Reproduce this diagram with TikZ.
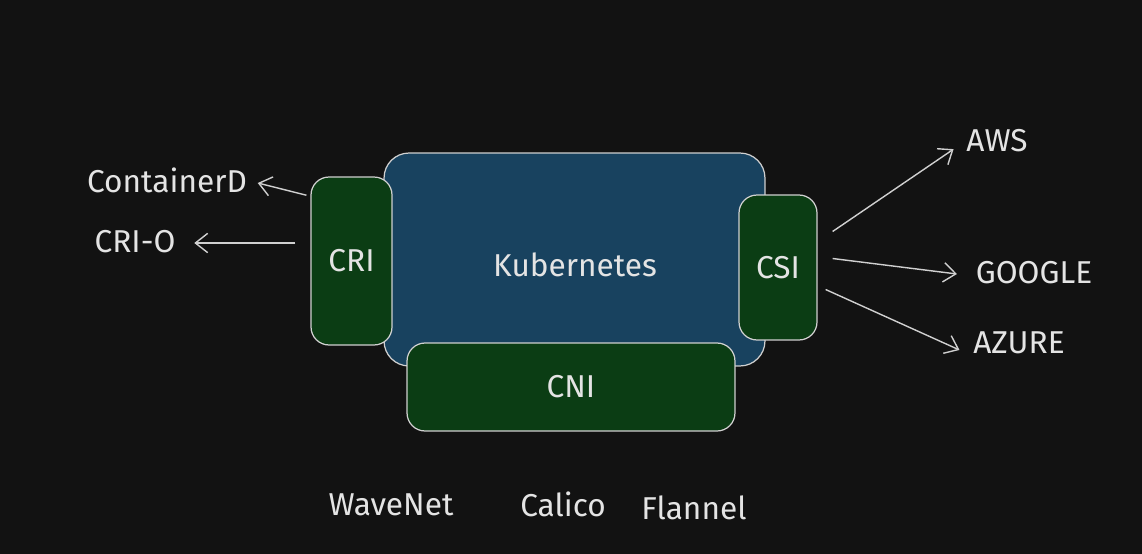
\documentclass[tikz,border=0pt]{standalone}
\usepackage{fontspec}
\setmainfont{Fira Sans}
\usepackage{tikz}
\usetikzlibrary{arrows.meta,
           positioning,
           calc}
\definecolor{fond}{HTML}{121212}
\definecolor{bleuk}{HTML}{18425F}
\definecolor{vertp}{HTML}{0B3D14}
\definecolor{trait}{HTML}{D0D0D0}
\definecolor{texte}{HTML}{E4E4E4}
\tikzset{
  boite/.style={draw=trait, line width=0.7pt, align=center, text=texte},
  kube/.style={boite, fill=bleuk, rounded corners=0.5cm},
  plug/.style={boite, fill=vertp, rounded corners=0.36cm},
  etiq/.style={text=texte, inner sep=2pt},
  fleche/.style={draw=trait, line width=0.8pt, -{Straight Barb[length=7pt,width=11pt,line width=0.8pt]}}
}
\begin{document}
\begin{tikzpicture}[x=0.02cm, y=-0.02cm, font=\fontsize{18}{21}\selectfont]
\fill[fond](0,0) rectangle (1142,554);
% le coeur et ses interfaces
\node[kube, minimum width=7.62cm, minimum height=4.26cm](K)at(574.5,259.5){};
\node[text=texte](Ktxt)at(575,265){Kubernetes};
\node[plug, minimum width=1.62cm, minimum height=3.36cm](CRI)at(351.5,261){CRI};
\node[plug, minimum width=1.56cm, minimum height=2.9cm](CSI)at(778,267.5){CSI};
\node[plug, minimum width=6.56cm, minimum height=1.76cm](CNI)at(571,387){CNI};
% runtimes
\node[etiq](CD)at(167,180){ContainerD};
\node[etiq](CRIO)at(135,242){CRI-O};
% stockage
\node[etiq](AWS)at(997,141){AWS};
\node[etiq](GOO)at(1034,273){GOOGLE};
\node[etiq](AZ)at(1019,343){AZURE};
% reseau
\node[etiq](WN)at(391,505){WaveNet};
\node[etiq](CAL)at(563,504){Calico};
\node[etiq](FL)at(694,508){Flannel};
% fleches
\draw[fleche]([shift={(-4,0)}]CRI.122)--([shift={(7,3)}]CD.east);
\draw[fleche]([shift={(-15,-18)}]CRI.west)--([shift={(15,1)}]CRIO.east);
\draw[fleche]([shift={(15,-36)}]CSI.east)--([shift={(-9,-7)}]AWS.south west);
\draw[fleche]([shift={(15,-9)}]CSI.east)--([shift={(-15,1)}]GOO.west);
\draw[fleche]([shift={(8,22)}]CSI.east)--([shift={(-10,7)}]AZ.west);
\end{tikzpicture}
\end{document}
